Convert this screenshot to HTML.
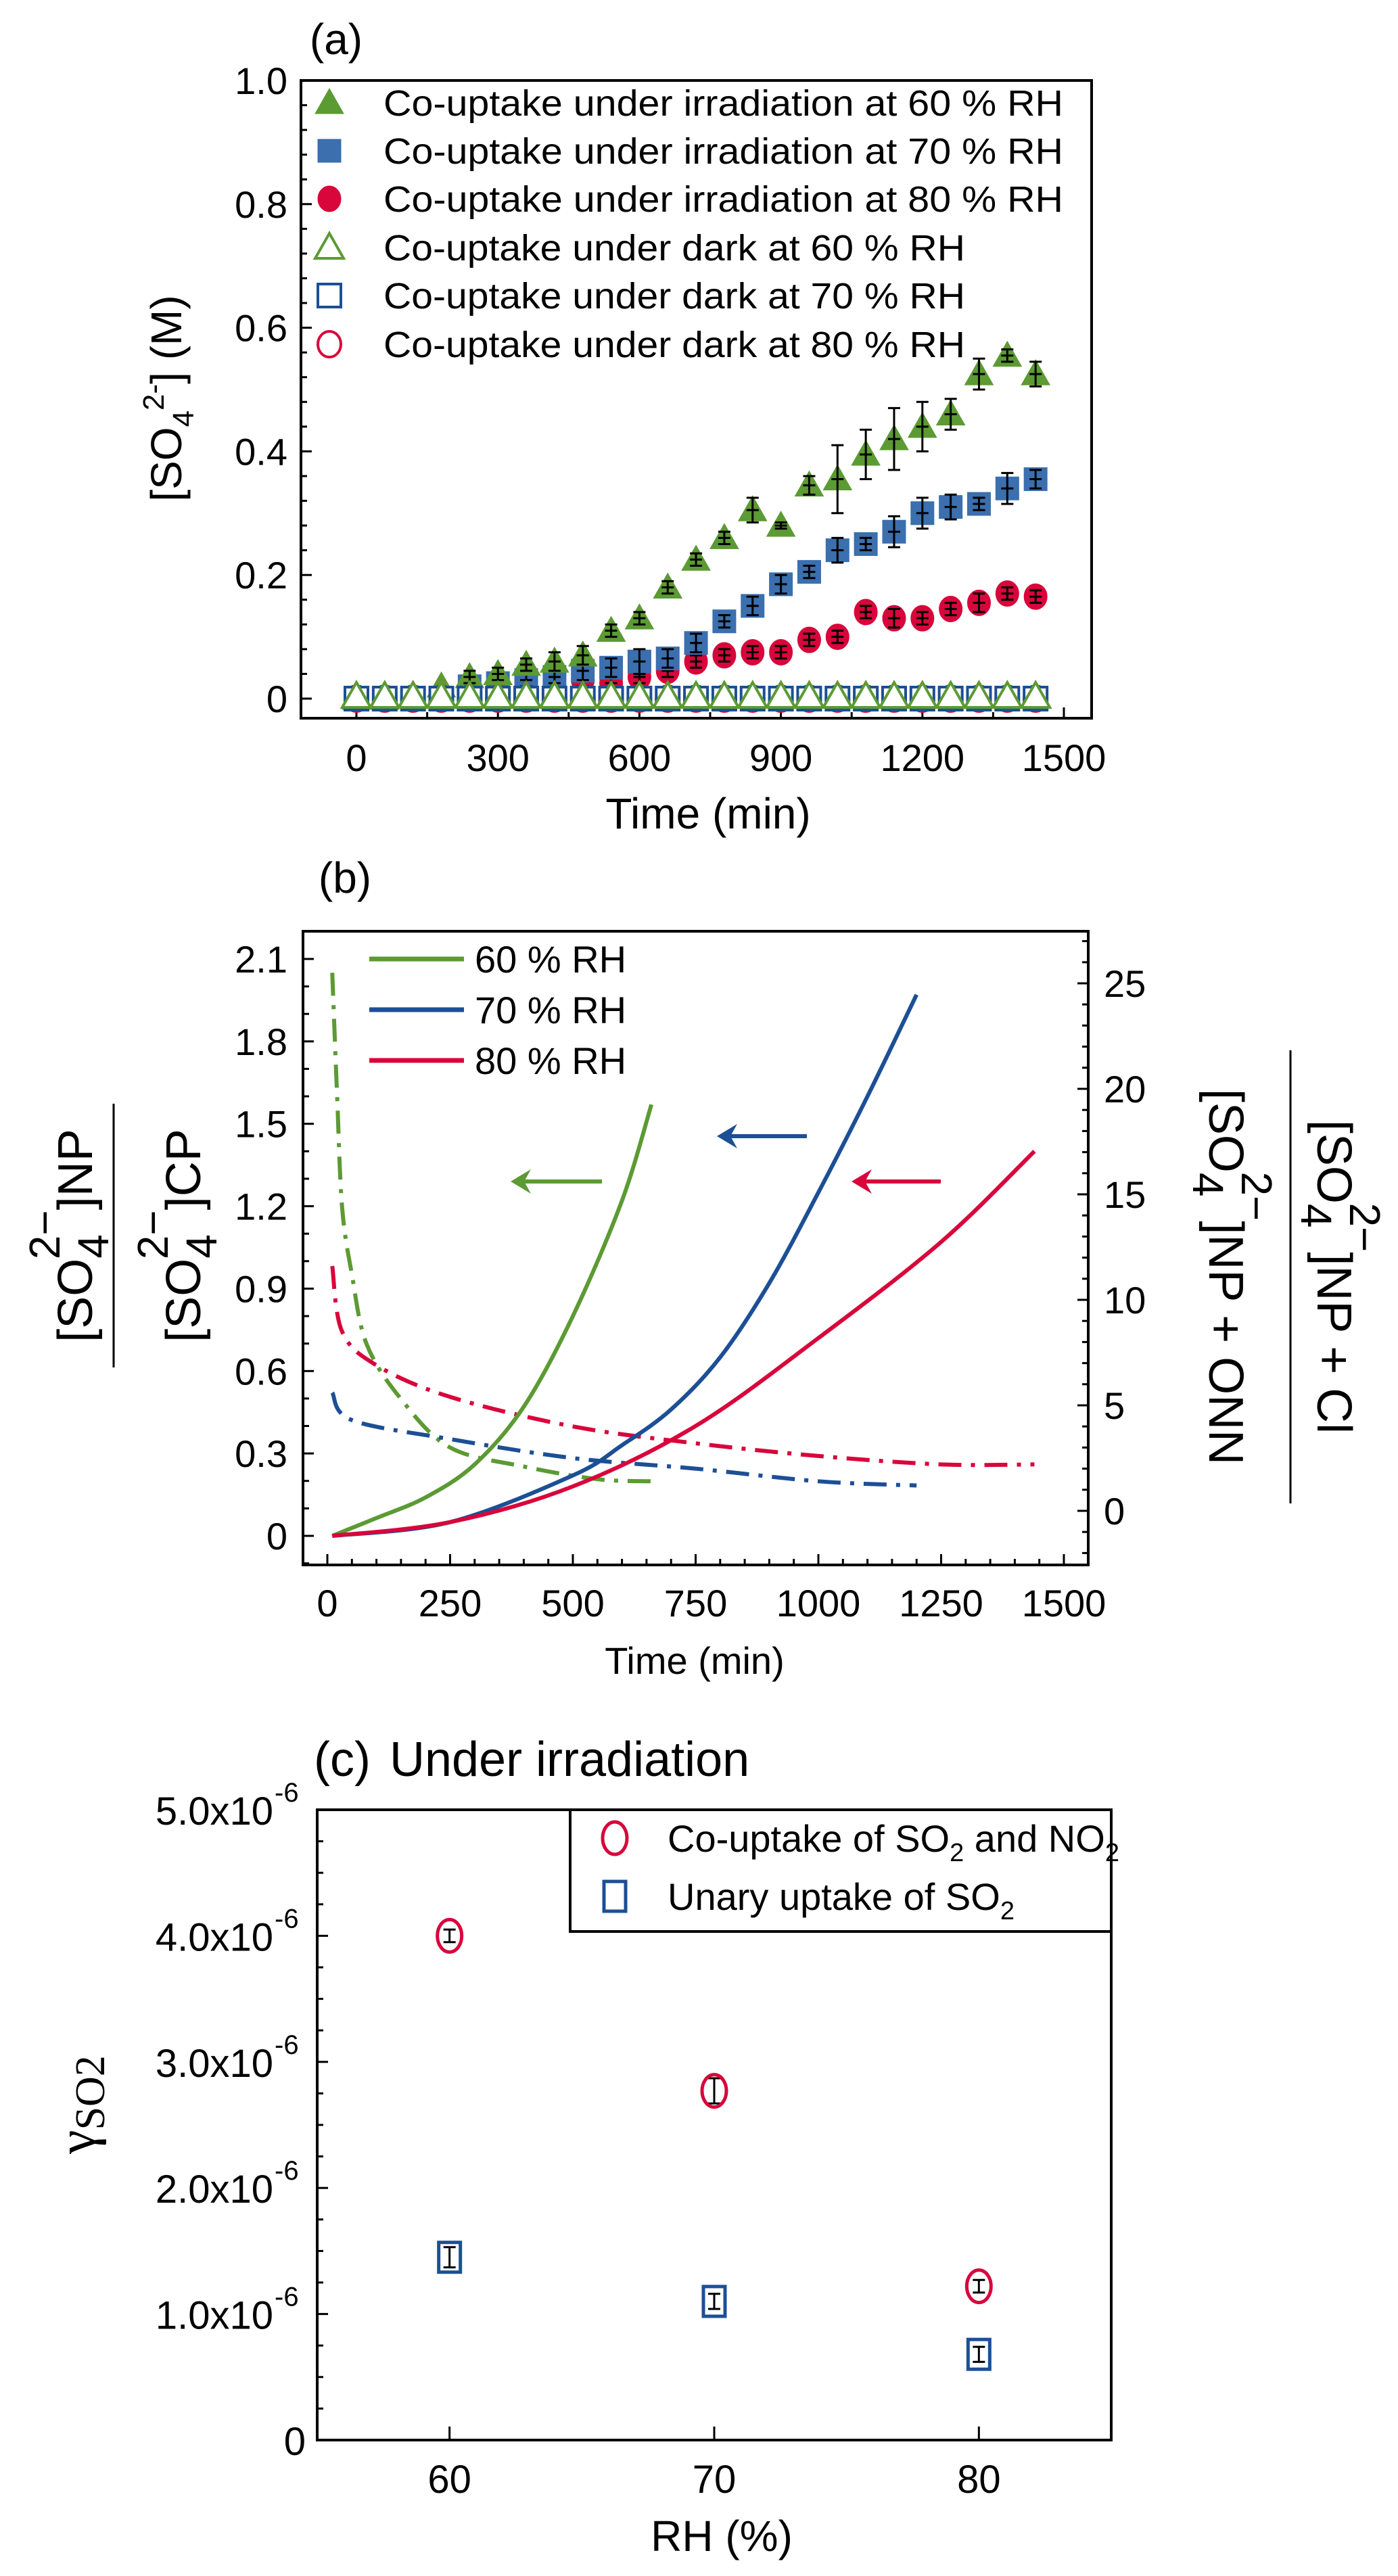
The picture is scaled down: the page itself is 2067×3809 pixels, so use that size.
<!DOCTYPE html>
<html><head><meta charset="utf-8"><style>
html,body{margin:0;padding:0;background:#fff;}
svg{display:block;font-family:"Liberation Sans",sans-serif;}
</style></head><body>
<svg id="fig" xmlns="http://www.w3.org/2000/svg" width="2067" height="3809" viewBox="0 0 2067 3809">
<g id="pa"></g>
<g id="pb"></g>
<g id="pc"></g>
</svg>
<script>
// ---------- Panel (a) data ----------
const timesA = [0,60,120,180,240,300,360,420,480,540,600,660,720,780,840,900,960,1020,1080,1140,1200,1260,1320,1380,1440];
const irr60 = [0,0,0.005,0.02,0.035,0.04,0.055,0.06,0.07,0.11,0.13,0.18,0.225,0.26,0.305,0.28,0.345,0.355,0.395,0.42,0.44,0.46,0.525,0.555,0.525];
const irr60Err = [0,0,0,0,0.01,0.01,0.01,0.015,0.015,0.01,0.01,0.01,0.01,0.01,0.02,0.005,0.015,0.055,0.04,0.05,0.04,0.025,0.025,0.01,0.02];
const irr70 = [0,0,0,0,0.02,0.025,0.03,0.035,0.045,0.05,0.06,0.065,0.09,0.125,0.15,0.185,0.205,0.24,0.25,0.27,0.3,0.31,0.315,0.34,0.355];
const irr70Err = [0,0,0,0,0.01,0.01,0.01,0.01,0.015,0.015,0.02,0.015,0.015,0.01,0.015,0.015,0.01,0.02,0.01,0.025,0.025,0.02,0.01,0.025,0.015];
const irr80 = [0,0,0,0,0,0.005,0.01,0.02,0.03,0.025,0.035,0.045,0.06,0.07,0.075,0.075,0.095,0.1,0.14,0.13,0.13,0.145,0.155,0.17,0.165];
const irr80Err = [0,0,0,0,0,0,0,0.01,0.01,0.01,0.01,0.01,0.01,0.01,0.01,0.01,0.01,0.01,0.01,0.015,0.01,0.01,0.015,0.01,0.01];
const dark60 = [0,0,0,0,0,0,0,0,0,0,0,0,0,0,0,0,0,0,0,0,0,0,0,0,0];
const dark70 = [0,0,0,0,0,0,0,0,0,0,0,0,0,0,0,0,0,0,0,0,0,0,0,0,0];
const dark80 = [0,0,0,0,0,0,0,0,0,0,0,0,0,0,0,0,0,0,0,0,0,0,0,0,0];
const yTicksA = [0,0.2,0.4,0.6,0.8,1.0];
const yTickLabelsA = ["0","0.2","0.4","0.6","0.8","1.0"];
const xTicksA = [0,300,600,900,1200,1500];
const legendA = ["Co-uptake under irradiation at 60 % RH","Co-uptake under irradiation at 70 % RH","Co-uptake under irradiation at 80 % RH","Co-uptake under dark at 60 % RH","Co-uptake under dark at 70 % RH","Co-uptake under dark at 80 % RH"];

// ---------- Panel (b) data ----------
const t60 = [10,100,200,300,400,500,600,660];
const ratio60 = [0,0.065,0.14,0.26,0.47,0.8,1.22,1.57];
const t70 = [10,250,500,600,700,800,900,1000,1100,1200];
const ratio70 = [0,0.05,0.22,0.33,0.46,0.65,0.92,1.25,1.6,1.97];
const t80 = [10,250,500,750,1000,1250,1440];
const ratio80 = [0,0.05,0.18,0.4,0.72,1.07,1.4];
const td60 = [10,20,30,50,80,150,250,400,550,660];
const frac60 = [25.5,19.6,14.4,11.2,7.9,5.3,3.0,2.1,1.5,1.4];
const td70 = [10,50,250,500,750,1000,1200];
const frac70 = [5.6,4.3,3.4,2.5,2.0,1.4,1.2];
const td80 = [10,30,100,250,500,750,1000,1250,1440];
const frac80 = [11.6,8.5,6.9,5.4,4.0,3.2,2.6,2.2,2.2];
const yTicksBL = [0,0.3,0.6,0.9,1.2,1.5,1.8,2.1];
const yTicksBR = [0,5,10,15,20,25];
const xTicksB = [0,250,500,750,1000,1250,1500];

// ---------- Panel (c) data ----------
const rhC = [60,70,80];
const coUptake = [4.0,2.77,1.22];
const coErr = [0.05,0.1,0.05];
const unary = [1.45,1.1,0.68];
const unaryErr = [0.08,0.06,0.06];
const yTicksC = [0,1,2,3,4,5];
const yTickLabelsC = ["0","1.0x10","2.0x10","3.0x10","4.0x10","5.0x10"];

const NS="http://www.w3.org/2000/svg";
function mk(parent,tag,attrs,text){const e=document.createElementNS(NS,tag);for(const k in attrs)e.setAttribute(k,attrs[k]);if(text!==undefined)e.textContent=text;parent.appendChild(e);return e;}
function smooth(pts){let d="M"+pts[0][0]+","+pts[0][1];for(let i=0;i<pts.length-1;i++){const p0=pts[Math.max(0,i-1)],p1=pts[i],p2=pts[i+1],p3=pts[Math.min(pts.length-1,i+2)];const c1=[p1[0]+(p2[0]-p0[0])/6,p1[1]+(p2[1]-p0[1])/6],c2=[p2[0]-(p3[0]-p1[0])/6,p2[1]-(p3[1]-p1[1])/6];d+=" C"+c1[0]+","+c1[1]+" "+c2[0]+","+c2[1]+" "+p2[0]+","+p2[1];}return d;}

const GREEN="#5c9a33", BLUE="#3b6fae", DBLUE="#1c4f95", RED="#d8063b";

// ================= PANEL A =================
(function(){
const g=document.getElementById('pa');
const L=445,R=1614,T=119,B=1062;
const xA=t=>527+t*(1573-527)/1500;
const yA=v=>1033-v*914;
mk(g,'text',{x:497,y:80,'font-size':64,'text-anchor':'middle',},'(a)');
mk(g,'rect',{x:L,y:T,width:R-L,height:B-T,fill:'none',stroke:'#000','stroke-width':4,});
for(let v=0;v<=1.0001;v+=0.04){const y=yA(v);const major=yTicksA.some(m=>Math.abs(m-v)<1e-6);const tk=mk(g,'line',{x1:L,x2:L+(major?16:9),y1:y,y2:y,stroke:'#000','stroke-width':3});}
yTicksA.forEach((v,i)=>{const t=mk(g,'text',{x:425,y:yA(v)+20,'font-size':56,'text-anchor':'end'},yTickLabelsA[i]);});
for(let tv=0;tv<=1500;tv+=150){const major=tv%300===0;const tk=mk(g,'line',{x1:xA(tv),x2:xA(tv),y1:B,y2:B-(major?16:9),stroke:'#000','stroke-width':3});}
xTicksA.forEach(v=>{const t=mk(g,'text',{x:xA(v),y:1140,'font-size':56,'text-anchor':'middle'},String(v));});
mk(g,'text',{x:1047,y:1225,'font-size':64,'text-anchor':'middle',},'Time (min)');
const yl=mk(g,'text',{x:0,y:0,'font-size':64,'text-anchor':'middle',transform:'translate(268,589) rotate(-90)',});
yl.innerHTML='[SO<tspan font-size="44" dy="18">4</tspan><tspan font-size="44" dy="-44">2-</tspan><tspan dy="26">] (M)</tspan>';
function marker(kind,x,y,color,filled,name){let e;
 if(kind==='tri'){e=mk(g,'path',{d:`M${x},${y-21} L${x+21},${y+16} L${x-21},${y+16} Z`});}
 else if(kind==='sq'){e=mk(g,'rect',{x:x-17,y:y-17,width:34,height:34});}
 else {e=mk(g,'ellipse',{cx:x,cy:y,rx:17,ry:19});}
 e.setAttribute('fill',filled?color:'#fff');e.setAttribute('stroke',color);e.setAttribute('stroke-width',filled?1:4);
 return e;}
function errbar(x,v,err,name){if(err<=0)return;const y1=yA(v-err),y2=yA(v+err);const e=mk(g,'path',{d:`M${x},${y1} L${x},${y2} M${x-9},${y1} L${x+9},${y1} M${x-9},${y2} L${x+9},${y2} M${x-9},${yA(v)} L${x+9},${yA(v)}`,stroke:'#000','stroke-width':3,fill:'none'});}
const series=[[irr80,irr80Err,'circ',RED,'point-irr-80'],[irr70,irr70Err,'sq',BLUE,'point-irr-70'],[irr60,irr60Err,'tri',GREEN,'point-irr-60']];
series.forEach(s=>{timesA.forEach((t,i)=>{marker(s[2],xA(t),yA(s[0][i]),s[3],true,s[4]);errbar(xA(t),s[0][i],s[1][i],s[4]+'-error');});});
timesA.forEach((t,i)=>marker('circ',xA(t),yA(dark80[i]),RED,false,'point-dark-80'));
timesA.forEach((t,i)=>marker('sq',xA(t),yA(dark70[i]),DBLUE,false,'point-dark-70'));
timesA.forEach((t,i)=>marker('tri',xA(t),yA(dark60[i])-3,GREEN,false,'point-dark-60'));
const rows=[152,223,294,366,437,509];
const kinds=[['tri',GREEN,true],['sq',BLUE,true],['circ',RED,true],['tri',GREEN,false],['sq',DBLUE,false],['circ',RED,false]];
legendA.forEach((s,i)=>{const ky=rows[i];marker(kinds[i][0],487,ky,kinds[i][1],kinds[i][2],'legend-marker-a');
 const tl=i<3?1005:860;const t=mk(g,'text',{x:567,y:ky+19,'font-size':54,textLength:tl,lengthAdjust:'spacingAndGlyphs'},s);});
})();

// ================= PANEL B =================
(function(){
const g=document.getElementById('pb');
const L=448,R=1609,T=1377,B=2314;
const xB=t=>484+t*0.726;
const yL=v=>2271-v*406.2;
const yR=v=>2234-v*31.2;
mk(g,'text',{x:510,y:1320,'font-size':64,'text-anchor':'middle',},'(b)');
mk(g,'rect',{x:L,y:T,width:R-L,height:B-T,fill:'none',stroke:'#000','stroke-width':4,});
for(let v=-0.1;v<=2.2;v+=0.1){const vv=Math.round(v*10)/10;const y=yL(vv);if(y<T+2||y>B-2)continue;const major=Math.round(vv*10)%3===0;const tk=mk(g,'line',{x1:L,x2:L+(major?16:9),y1:y,y2:y,stroke:'#000','stroke-width':3});}
yTicksBL.forEach(v=>{const t=mk(g,'text',{x:425,y:yL(v)+20,'font-size':56,'text-anchor':'end'},v===0?'0':v.toFixed(1));});
for(let v=-2;v<=28;v+=1){const y=yR(v);if(y<T+2||y>B-2)continue;const major=v%5===0;const tk=mk(g,'line',{x1:R,x2:R-(major?16:9),y1:y,y2:y,stroke:'#000','stroke-width':3});}
yTicksBR.forEach(v=>{const t=mk(g,'text',{x:1632,y:yR(v)+20,'font-size':56},String(v));});
for(let tv=0;tv<=1500;tv+=50){const major=tv%250===0;const tk=mk(g,'line',{x1:xB(tv),x2:xB(tv),y1:B,y2:B-(major?16:9),stroke:'#000','stroke-width':3});}
xTicksB.forEach(v=>{const t=mk(g,'text',{x:xB(v),y:2390,'font-size':56,'text-anchor':'middle'},String(v));});
mk(g,'text',{x:1027,y:2475,'font-size':56,'text-anchor':'middle',},'Time (min)');
// left fraction label
const lf=mk(g,'g',{transform:'translate(0,1827)',});
const n1=mk(lf,'text',{'font-size':72,'text-anchor':'middle',transform:'translate(136,0) rotate(-90)'});
n1.innerHTML='[SO<tspan font-size="64" dy="24">4</tspan><tspan font-size="64" dx="-37" dy="-72">2−</tspan><tspan dy="48">]NP</tspan>';
mk(lf,'line',{x1:168,x2:168,y1:-195,y2:195,stroke:'#000','stroke-width':3});
const d1=mk(lf,'text',{'font-size':72,'text-anchor':'middle',transform:'translate(296,0) rotate(-90)'});
d1.innerHTML='[SO<tspan font-size="64" dy="24">4</tspan><tspan font-size="64" dx="-37" dy="-72">2−</tspan><tspan dy="48">]CP</tspan>';
// right fraction label
const rf=mk(g,'g',{transform:'translate(0,1888)',});
const n2=mk(rf,'text',{'font-size':72,'text-anchor':'middle',transform:'translate(1948,0) rotate(90)'});
n2.innerHTML='[SO<tspan font-size="64" dy="24">4</tspan><tspan font-size="64" dx="-37" dy="-72">2−</tspan><tspan dy="48">]NP + Cl</tspan>';
mk(rf,'line',{x1:1908,x2:1908,y1:-335,y2:335,stroke:'#000','stroke-width':3});
const d2=mk(rf,'text',{'font-size':72,'text-anchor':'middle',transform:'translate(1788,0) rotate(90)'});
d2.innerHTML='[SO<tspan font-size="64" dy="24">4</tspan><tspan font-size="64" dx="-37" dy="-72">2−</tspan><tspan dy="48">]NP + ONN</tspan>';
// curves
function curve(ts,vs,ys,color,dash,name){const pts=ts.map((t,i)=>[xB(t),ys(vs[i])]);const p=mk(g,'path',{d:smooth(pts),fill:'none',stroke:color,'stroke-width':6});if(dash)p.setAttribute('stroke-dasharray',dash);}
const DD='34,14,6,14';
curve(td60,frac60,yR,GREEN,DD,'fraction-line-60');
curve(td70,frac70,yR,DBLUE,DD,'fraction-line-70');
curve(td80,frac80,yR,RED,DD,'fraction-line-80');
curve(t60,ratio60,yL,GREEN,null,'ratio-line-60');
curve(t70,ratio70,yL,DBLUE,null,'ratio-line-70');
curve(t80,ratio80,yL,RED,null,'ratio-line-80');
function arrow(x1,x2,y,color,name){const a=mk(g,'g',{});mk(a,'line',{x1:x1,x2:x2+10,y1:y,y2:y,stroke:color,'stroke-width':6});mk(a,'path',{d:`M${x2},${y} L${x2+30},${y-18} L${x2+20},${y} L${x2+30},${y+18} Z`,fill:color});}
arrow(890,755,1747,GREEN,'arrow-60');
arrow(1193,1060,1680,DBLUE,'arrow-70');
arrow(1391,1259,1747,RED,'arrow-80');
[[GREEN,'60 % RH',1418],[DBLUE,'70 % RH',1493],[RED,'80 % RH',1568]].forEach(r=>{mk(g,'line',{x1:546,x2:686,y1:r[2],y2:r[2],stroke:r[0],'stroke-width':7,});const t=mk(g,'text',{x:702,y:r[2]+20,'font-size':56},r[1]);});
})();

// ================= PANEL C =================
(function(){
const g=document.getElementById('pc');
const L=469,R=1643,T=2676,B=3608;
const xC=v=>469+(v-55)*(1643-469)/30;
const yC=v=>3608-v*(3608-2676)/5;
const t=mk(g,'text',{x:464,y:2626,'font-size':72,});t.innerHTML='(c)<tspan dx="28">Under irradiation</tspan>';
mk(g,'rect',{x:L,y:T,width:R-L,height:B-T,fill:'none',stroke:'#000','stroke-width':4,});
for(let v=0;v<=5.0001;v+=0.25){const y=yC(v);const major=Math.abs(v-Math.round(v))<1e-6;const tk=mk(g,'line',{x1:L,x2:L+(major?16:9),y1:y,y2:y,stroke:'#000','stroke-width':3});}
yTicksC.forEach((v,i)=>{const tx=mk(g,'text',{x:v===0?452:404,y:yC(v)+22,'font-size':58,'text-anchor':'end'},yTickLabelsC[i]);
 if(v!==0){const s=mk(g,'text',{x:406,y:yC(v)-12,'font-size':40},'-6');}});
rhC.forEach(v=>{const tk=mk(g,'line',{x1:xC(v),x2:xC(v),y1:B,y2:B-20,stroke:'#000','stroke-width':3});
 const tx=mk(g,'text',{x:xC(v),y:3686,'font-size':58,'text-anchor':'middle'},String(v));});
mk(g,'text',{x:1067,y:3772,'font-size':64,'text-anchor':'middle',},'RH (%)');
const yl=mk(g,'text',{'font-size':80,'font-family':'Liberation Serif, serif','text-anchor':'middle',transform:'translate(140,3112) rotate(-90)',});
yl.innerHTML='γ<tspan font-size="62" dy="14">SO2</tspan>';
function err(x,v,e,name){const y1=yC(v-e),y2=yC(v+e);const p=mk(g,'path',{d:`M${x},${y1} L${x},${y2} M${x-9},${y1} L${x+9},${y1} M${x-9},${y2} L${x+9},${y2}`,stroke:'#000','stroke-width':3,fill:'none'});}
rhC.forEach((v,i)=>{const x=xC(v);err(x,coUptake[i],coErr[i],'co-uptake-error');const c=mk(g,'ellipse',{cx:x,cy:yC(coUptake[i]),rx:18,ry:24,fill:'none',stroke:RED,'stroke-width':5});
 err(x,unary[i],unaryErr[i],'unary-error');const s=mk(g,'rect',{x:x-16,y:yC(unary[i])-22,width:32,height:44,fill:'none',stroke:DBLUE,'stroke-width':5});});
const lg=mk(g,'g',{});
mk(lg,'rect',{x:843,y:2676,width:800,height:180,fill:'#fff',stroke:'#000','stroke-width':4});
mk(lg,'ellipse',{cx:909,cy:2718,rx:18,ry:24,fill:'none',stroke:RED,'stroke-width':5});
mk(lg,'rect',{x:893,y:2782,width:32,height:44,fill:'none',stroke:DBLUE,'stroke-width':5});
const l1=mk(lg,'text',{x:987,y:2738,'font-size':56});l1.innerHTML='Co-uptake of SO<tspan font-size="38" dy="14">2</tspan><tspan dy="-14"> and NO</tspan><tspan font-size="38" dy="14">2</tspan>';
const l2=mk(lg,'text',{x:987,y:2824,'font-size':56});l2.innerHTML='Unary uptake of SO<tspan font-size="38" dy="14">2</tspan>';
})();
</script>
</body></html>
